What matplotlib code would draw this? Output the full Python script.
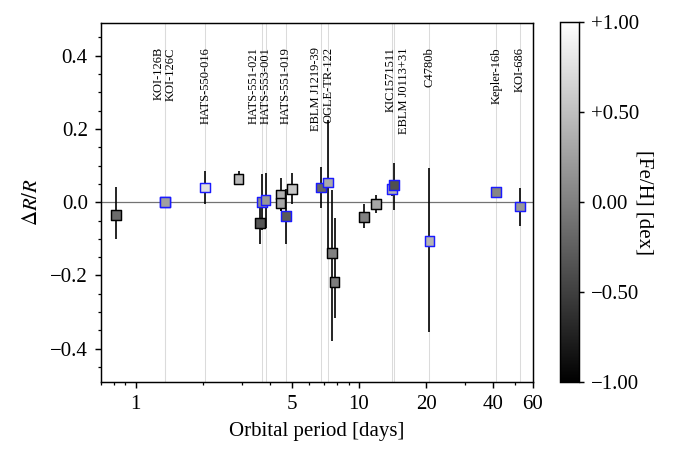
import matplotlib

matplotlib.use("Agg")
import matplotlib.pyplot as plt
from matplotlib.ticker import FixedLocator, FuncFormatter, MultipleLocator, NullFormatter


# measured binaries: period [d], dR/R, lower / upper error, [Fe/H], blue edge = labelled sample
period = [0.82, 1.35, 1.35, 2.05, 2.89, 3.60, 3.67, 3.82, 4.46, 4.46, 4.70, 5.03,
          6.76, 7.29, 7.57, 7.78, 10.56, 11.95, 14.06, 14.35, 20.7, 41.2, 52.7]
dr = [-0.035, 0.0, 0.0, 0.040, 0.063, -0.056, 0.0, 0.005, 0.021, -0.003, -0.037, 0.037,
      0.040, 0.054, -0.139, -0.217, -0.040, -0.005, 0.036, 0.046, -0.107, 0.028, -0.012]
err_lo = [0.065, 0.0, 0.0, 0.045, 0.017, 0.057, 0.076, 0.076, 0.045, 0.020, 0.078, 0.043,
          0.057, 0.185, 0.241, 0.099, 0.031, 0.025, 0.020, 0.067, 0.246, 0.0, 0.052]
err_hi = [0.077, 0.0, 0.0, 0.044, 0.022, 0.057, 0.076, 0.076, 0.045, 0.020, 0.072, 0.043,
          0.055, 0.170, 0.172, 0.173, 0.034, 0.025, 0.020, 0.061, 0.200, 0.0, 0.052]
feh = [-0.15, 0.25, 0.25, 0.75, 0.45, -0.33, 0.10, 0.18, 0.37, 0.30, -0.30, 0.55,
       -0.20, 0.33, 0.0, -0.02, 0.0, 0.30, 0.40, -0.37, 0.40, 0.05, 0.18]
labelled = [False, True, True, True, False, False, True, True, False, False, True, False,
            True, True, False, False, False, False, True, True, True, True, True]

names = ["KOI-126B", "KOI-126C", "HATS-550-016", "HATS-551-021", "HATS-553-001",
         "HATS-551-019", "EBLM J1219-39", "OGLE-TR-122", "KIC1571511", "EBLM J0113+31",
         "C4780b", "Kepler-16b", "KOI-686"]
name_period = [1.35, 1.35, 2.05, 3.67, 3.82, 4.70, 6.76, 7.29, 14.06, 14.35, 20.7, 41.2, 52.7]

plt.rcParams.update(
    {
        "font.family": "serif",
        "font.serif": ["Liberation Serif", "DejaVu Serif"],
        "mathtext.fontset": "stix",
        "font.size": 10,
        "axes.linewidth": 0.7,
    }
)

fig = plt.figure(figsize=(4.5, 3.0), dpi=150)
ax = fig.add_axes([0.1496, 0.1518, 0.6396, 0.7978])
cax = fig.add_axes([0.8296, 0.1504, 0.0281, 0.7999])

# label nudges (points) so that pairs with the same period do not overlap
shift = {"KOI-126B": -2.7, "KOI-126C": 2.9, "HATS-551-021": -3.7, "EBLM J1219-39": -2.4,
         "KIC1571511": -0.6, "EBLM J0113+31": 4.6}

for name, p in zip(names, name_period):
    ax.axvline(p, color="0.86", lw=0.5, zorder=0)
    ax.annotate(name, (p, 0.423), xytext=(shift.get(name, 0.0), 0), textcoords="offset points",
                rotation=90, ha="center", va="top", fontsize=6)

ax.axhline(0.0, color="0.45", lw=0.6, zorder=1)
ax.errorbar(period, dr, yerr=[err_lo, err_hi], fmt="none", ecolor="black", elinewidth=0.8,
            capsize=0, zorder=2)
edges = ["#1a1aff" if flag else "black" for flag in labelled]
sc = ax.scatter(period, dr, c=feh, cmap="gray", vmin=-1, vmax=1, marker="s", s=22,
                edgecolors=edges, linewidths=0.7, zorder=3)

ax.set_xscale("log")
ax.set_xlim(0.7, 60)
ax.set_ylim(-0.49, 0.49)
ax.xaxis.set_major_locator(FixedLocator([1, 5, 10, 20, 40, 60]))
ax.xaxis.set_major_formatter(FuncFormatter(lambda v, _: f"{v:g}"))
ax.xaxis.set_minor_locator(FixedLocator([0.7, 0.8, 0.9, 2, 3, 4, 6, 7, 8, 9, 30, 50]))
ax.xaxis.set_minor_formatter(NullFormatter())
ax.yaxis.set_major_locator(MultipleLocator(0.2))
ax.yaxis.set_minor_locator(MultipleLocator(0.05))
ax.tick_params(which="major", direction="out", length=2.8, width=0.7)
ax.tick_params(which="minor", direction="out", length=1.6, width=0.6)
ax.set_xlabel("Orbital period [days]")
ax.set_ylabel(r"$\Delta R/R$")

cbar = fig.colorbar(sc, cax=cax, ticks=[-1, -0.5, 0, 0.5, 1])
cbar.outline.set_linewidth(0.7)
cbar.ax.yaxis.set_major_formatter(
    FuncFormatter(lambda v, _: "0.00" if abs(v) < 1e-9 else f"{v:+.2f}".replace("-", "\u2212"))
)
cbar.ax.tick_params(direction="out", length=2.5, width=0.7)
cbar.set_label("[Fe/H] [dex]", rotation=270, va="center")
cbar.ax.yaxis.set_label_coords(4.45, 0.5)

fig.savefig("out.png", dpi=150)
